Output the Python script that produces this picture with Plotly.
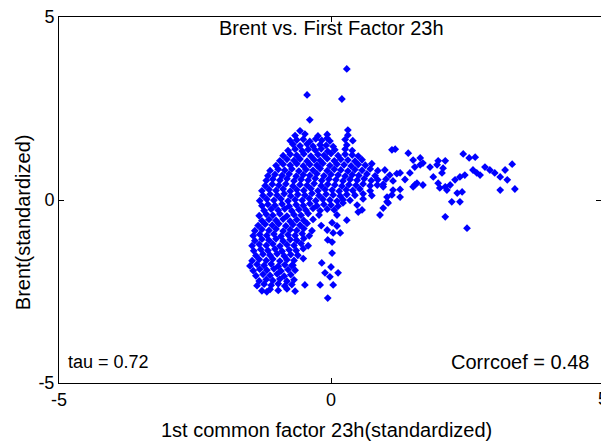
import plotly.graph_objects as go

# 1st common factor 23h (standardized) -- grouped in rows of similar Brent level
factor_rows = [
    [0.29, -0.44, 0.20, -0.39, -0.57, -0.63, -0.07, 0.31],
    [-0.66, -0.48, -0.24, -0.07, 0.31],
    [-0.75, -0.51, -0.39, -0.28, -0.17, -0.02, 0.26, 0.40],
    [-0.70, -0.57, -0.44, -0.33, -0.20, -0.09, 0.04, 0.29],
    [-0.79, -0.66, -0.53, -0.42, -0.29, -0.18, -0.06, 0.07, 0.26, 0.39, 1.12, 1.18],
    [-0.88, -0.75, -0.63, -0.50, -0.37, -0.24, -0.13, 0.00, 0.13, 0.26, 0.39, 0.50, 1.42, 1.51],
    [-0.94, -0.81, -0.68, -0.57, -0.44, -0.31, -0.20, -0.07, 0.06, 0.18, 0.31, 0.44, 0.57, 1.64, 1.97, 2.10, 2.43, 2.54, 2.65],
    [-1.01, -0.88, -0.75, -0.63, -0.51, -0.39, -0.26, -0.15, -0.02, 0.11, 0.24, 0.37, 0.50, 0.63, 0.75, 1.54, 1.64, 1.69, 1.95, 2.83, 3.33],
    [-1.12, -0.97, -0.85, -0.72, -0.59, -0.46, -0.33, -0.20, -0.07, 0.06, 0.18, 0.31, 0.44, 0.57, 0.72, 0.86, 0.99, 1.82, 2.06, 2.61, 2.92, 3.20],
    [-1.16, -1.03, -0.90, -0.77, -0.64, -0.51, -0.39, -0.26, -0.13, 0.00, 0.13, 0.26, 0.39, 0.51, 0.66, 0.81, 1.08, 1.21, 1.27, 1.45, 1.88, 2.04, 2.46, 2.68, 2.74, 3.01, 3.11],
    [-1.19, -1.07, -0.94, -0.81, -0.68, -0.55, -0.42, -0.29, -0.17, -0.04, 0.09, 0.22, 0.35, 0.48, 0.61, 0.74, 0.86, 1.01, 1.14, 1.36, 1.58, 2.28, 2.37, 3.24],
    [-1.21, -1.08, -0.96, -0.83, -0.70, -0.57, -0.44, -0.31, -0.18, -0.06, 0.07, 0.20, 0.33, 0.46, 0.59, 0.72, 0.85, 0.96, 1.54, 1.69, 1.97, 2.19],
    [-1.27, -1.14, -1.01, -0.88, -0.75, -0.63, -0.50, -0.37, -0.24, -0.11, 0.02, 0.15, 0.28, 0.40, 0.53, 0.72, 1.14, 1.27, 1.51, 2.10, 2.00, 2.13, 3.11, 3.38, 0.96],
    [-1.25, -1.12, -0.99, -0.86, -0.74, -0.61, -0.48, -0.35, -0.22, -0.09, 0.04, 0.17, 0.29, 0.44, 0.59, 0.75, 1.12, 1.03, 1.27, 2.32, 2.41],
    [-1.31, -1.18, -1.05, -0.92, -0.79, -0.66, -0.53, -0.40, -0.28, -0.15, -0.02, 0.11, 0.22, 0.35, 0.59, 1.03, 2.37, 2.22],
    [-1.27, -1.16, -1.03, -0.90, -0.77, -0.64, -0.51, -0.39, -0.26, -0.13, 0.00, 0.13, 0.48, 0.22, 1.05],
    [-1.23, -1.10, -0.97, -0.85, -0.72, -0.59, -0.46, -0.33, -0.20, -0.07, 0.06, 0.57, 0.96, 0.50],
    [-1.32, -1.19, -1.07, -0.94, -0.81, -0.68, -0.55, -0.42, -0.22, 0.11, 0.90, 2.10],
    [-1.27, -1.14, -1.01, -0.88, -0.75, -0.63, -0.50, -0.33, 0.02, 0.29],
    [-1.34, -1.21, -1.08, -0.96, -0.83, -0.70, -0.57, -0.44, -0.18, 0.11, 2.50],
    [-1.40, -1.27, -1.14, -1.01, -0.88, -0.75, -0.63, -0.50, -0.35, -0.07, 0.04],
    [-1.43, -1.31, -1.18, -1.05, -0.92, -0.79, -0.66, -0.53, -0.40, 0.17],
    [-1.40, -1.27, -1.14, -1.01, -0.88, -0.75, -0.63, -0.50, -0.06, 0.02],
    [-1.45, -1.32, -1.19, -1.07, -0.94, -0.81, -0.68, -0.55, -0.42],
    [-1.42, -1.29, -1.16, -1.03, -0.90, -0.77, -0.64, -0.51, 0.02],
    [-1.38, -1.25, -1.12, -0.99, -0.86, -0.74, -0.61],
    [-1.45, -1.32, -1.19, -1.07, -0.94, -0.81, -0.68, -0.51, -0.17],
    [-1.49, -1.36, -1.23, -1.10, -0.97, -0.85, -0.72, -0.70, 0.00],
    [-1.43, -1.31, -1.18, -1.05, -0.92, -0.79, -0.66, -0.11, 0.13],
    [-1.38, -1.25, -1.12, -0.99, -0.86, -0.74, -0.02],
    [-1.32, -1.19, -1.07, -0.94, -0.81, -0.68],
    [-1.36, -1.23, -1.10, -0.97, -0.85, -0.72, -0.48, -0.20, 0.04],
    [-1.27, -1.12, -0.97, -0.81, -0.66, -1.18, -0.06],
]

# Brent (standardized), same row structure
brent_rows = [
    [3.58, 2.87, 2.76, 2.19, 1.89, 1.64, 1.69, 1.91],
    [1.76, 1.80, 1.75, 1.79, 1.77],
    [1.62, 1.66, 1.60, 1.67, 1.63, 1.61, 1.65, 1.62],
    [1.52, 1.48, 1.53, 1.47, 1.51, 1.49, 1.46, 1.50],
    [1.35, 1.39, 1.34, 1.38, 1.36, 1.40, 1.33, 1.37, 1.39, 1.35, 1.37, 1.39],
    [1.21, 1.25, 1.22, 1.26, 1.20, 1.24, 1.22, 1.27, 1.21, 1.25, 1.23, 1.20, 1.28, 1.09],
    [1.07, 1.11, 1.08, 1.12, 1.06, 1.10, 1.08, 1.13, 1.07, 1.11, 1.09, 1.06, 1.10, 1.15, 1.07, 1.07, 1.26, 1.15, 1.17],
    [0.94, 0.98, 0.95, 0.99, 0.93, 0.97, 0.95, 1.00, 0.94, 0.98, 0.96, 0.93, 0.97, 0.95, 0.99, 0.90, 0.96, 1.01, 0.96, 0.90, 0.98],
    [0.80, 0.84, 0.81, 0.85, 0.79, 0.83, 0.81, 0.86, 0.80, 0.84, 0.82, 0.79, 0.83, 0.81, 0.85, 0.80, 0.82, 0.90, 0.87, 0.82, 0.82, 0.82],
    [0.66, 0.70, 0.67, 0.71, 0.65, 0.69, 0.67, 0.72, 0.66, 0.70, 0.68, 0.65, 0.69, 0.67, 0.71, 0.66, 0.68, 0.72, 0.74, 0.74, 0.63, 0.74, 0.68, 0.74, 0.68, 0.74, 0.63],
    [0.53, 0.57, 0.54, 0.58, 0.52, 0.56, 0.54, 0.59, 0.53, 0.57, 0.55, 0.52, 0.56, 0.54, 0.58, 0.53, 0.55, 0.57, 0.52, 0.56, 0.46, 0.55, 0.63, 0.55],
    [0.39, 0.43, 0.40, 0.44, 0.38, 0.42, 0.40, 0.45, 0.39, 0.43, 0.41, 0.38, 0.42, 0.40, 0.44, 0.39, 0.41, 0.43, 0.41, 0.41, 0.46, 0.41],
    [0.25, 0.29, 0.26, 0.30, 0.24, 0.28, 0.26, 0.31, 0.25, 0.29, 0.27, 0.24, 0.28, 0.26, 0.30, 0.25, 0.27, 0.29, 0.36, 0.36, 0.33, 0.27, 0.27, 0.30, 0.36],
    [0.12, 0.16, 0.13, 0.17, 0.11, 0.15, 0.13, 0.18, 0.12, 0.16, 0.14, 0.11, 0.15, 0.13, 0.17, 0.12, 0.14, 0.08, 0.08, 0.19, 0.22],
    [-0.02, 0.02, -0.01, 0.03, -0.03, 0.01, -0.01, 0.04, -0.02, 0.02, 0.00, -0.03, 0.01, -0.01, 0.03, -0.05, -0.05, -0.05],
    [-0.16, -0.12, -0.15, -0.11, -0.17, -0.13, -0.15, -0.10, -0.16, -0.12, -0.14, -0.17, -0.14, -0.08, -0.08],
    [-0.29, -0.25, -0.28, -0.24, -0.30, -0.26, -0.28, -0.23, -0.29, -0.25, -0.27, -0.27, -0.22, -0.33],
    [-0.43, -0.39, -0.42, -0.38, -0.44, -0.40, -0.42, -0.37, -0.41, -0.41, -0.41, -0.46],
    [-0.57, -0.53, -0.56, -0.52, -0.58, -0.54, -0.56, -0.53, -0.62, -0.55],
    [-0.70, -0.66, -0.69, -0.65, -0.71, -0.67, -0.69, -0.64, -0.70, -0.71, -0.77],
    [-0.84, -0.80, -0.83, -0.79, -0.85, -0.81, -0.83, -0.78, -0.84, -0.82, -0.90],
    [-0.98, -0.94, -0.97, -0.93, -0.99, -0.95, -0.97, -0.92, -0.98, -0.90],
    [-1.11, -1.07, -1.10, -1.06, -1.12, -1.08, -1.10, -1.05, -1.09, -1.15],
    [-1.25, -1.21, -1.24, -1.20, -1.26, -1.22, -1.24, -1.19, -1.25],
    [-1.39, -1.35, -1.38, -1.34, -1.40, -1.36, -1.38, -1.33, -1.45],
    [-1.52, -1.48, -1.51, -1.47, -1.53, -1.49, -1.51],
    [-1.66, -1.62, -1.65, -1.61, -1.67, -1.63, -1.65, -1.60, -1.72],
    [-1.80, -1.76, -1.79, -1.75, -1.81, -1.77, -1.79, -1.78, -1.83],
    [-1.93, -1.89, -1.92, -1.88, -1.94, -1.90, -1.92, -1.99, -1.99],
    [-2.07, -2.03, -2.06, -2.02, -2.08, -2.04, -2.10],
    [-2.21, -2.17, -2.20, -2.16, -2.22, -2.18],
    [-2.34, -2.30, -2.33, -2.29, -2.35, -2.31, -2.32, -2.32, -2.32],
    [-2.48, -2.44, -2.47, -2.43, -2.49, -2.51, -2.68],
]

tick_vals = [-5, 0, 5]
tick_text = ["-5", "0", "5"]
title_text = "Brent vs. First Factor 23h"
x_title = "1st common factor 23h(standardized)"
y_title = "Brent(standardized)"
tau_text = "tau = 0.72"
corr_text = "Corrcoef = 0.48"

factor = []
brent = []
for xr, yr in zip(factor_rows, brent_rows):
    assert len(xr) == len(yr), (xr, yr)
    factor.extend(xr)
    brent.extend(yr)

FONT = "Liberation Sans, Arial, sans-serif"

fig = go.Figure()
fig.add_trace(go.Scatter(
    x=factor, y=brent, mode="markers",
    marker=dict(symbol="diamond", size=6, color="#0000FF", line=dict(width=0)),
    showlegend=False, hoverinfo="skip",
))

tickfont = dict(family=FONT, size=18, color="black")

fig.update_layout(
    width=601, height=444,
    margin=dict(l=59, r=0, t=17, b=61),
    paper_bgcolor="white", plot_bgcolor="white",
    xaxis=dict(range=[-5, 4.963], showgrid=False, zeroline=False, showline=True,
               linecolor="black", linewidth=1, mirror="ticks", ticks="inside",
               ticklen=5, tickcolor="black", tickvals=tick_vals, ticktext=tick_text,
               tickfont=tickfont),
    yaxis=dict(range=[-5, 5], showgrid=False, zeroline=False, showline=True,
               linecolor="black", linewidth=1, mirror=False, ticks="inside",
               ticklen=5, tickcolor="black", tickvals=tick_vals, ticktext=tick_text,
               tickfont=tickfont),
    yaxis2=dict(range=[-5, 5], overlaying="y", side="right", showgrid=False,
                zeroline=False, showline=False, ticks="inside", ticklen=5,
                tickcolor="black", tickvals=tick_vals, showticklabels=False),
    font=dict(family=FONT, size=18, color="black"),
)

fig.add_trace(go.Scatter(x=[None], y=[None], yaxis="y2", showlegend=False,
                         hoverinfo="skip"))

fig.add_annotation(x=0, y=4.7, xref="x", yref="y", text=title_text, showarrow=False,
                   font=dict(size=20), xanchor="center", yanchor="middle")
fig.add_annotation(x=-4.88, y=-4.43, xref="x", yref="y", text=tau_text, showarrow=False,
                   font=dict(size=18), xanchor="left", yanchor="middle")
fig.add_annotation(x=4.78, y=-4.43, xref="x", yref="y", text=corr_text, showarrow=False,
                   font=dict(size=20), xanchor="right", yanchor="middle")
fig.add_annotation(x=1.0037, y=0, xref="paper", yref="paper", text=tick_text[2],
                   showarrow=False, font=dict(size=18), xanchor="center",
                   yanchor="top", yshift=-4)
fig.add_annotation(x=-0.066, y=-0.6, xref="paper", yref="y", text=y_title, showarrow=False,
                   textangle=-90, font=dict(size=20), xanchor="center", yanchor="middle")
fig.add_annotation(x=-0.09, y=0, xref="x", yref="paper", text=x_title, showarrow=False,
                   font=dict(size=20), xanchor="center", yanchor="top", yshift=-34)

fig.write_html("out.html")
